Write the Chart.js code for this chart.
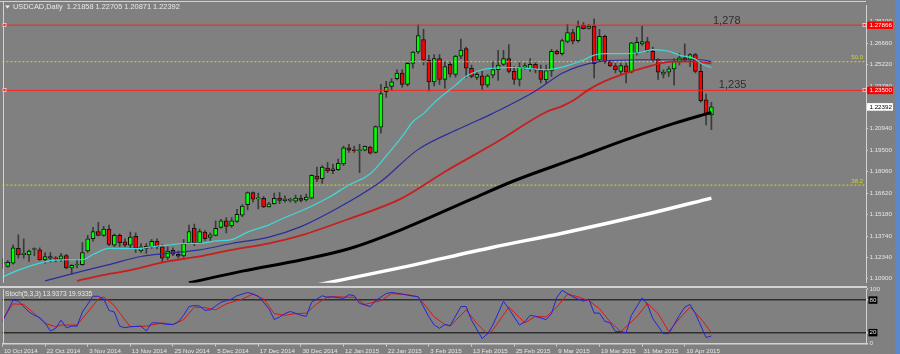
<!DOCTYPE html>
<html>
<head>
<meta charset="utf-8">
<script src="https://cdn.jsdelivr.net/npm/chart.js@4.4.1/dist/chart.umd.min.js"></script>
<style>
html, body { margin: 0; padding: 0; background: #808080; }
#wrap { position: relative; width: 900px; height: 354px; overflow: hidden; background: #808080; }
#main { position: absolute; left: 0; top: 0; }
#osc { position: absolute; left: 0; top: 284px; }
#edge { position: absolute; left: 895px; top: 0; width: 5px; height: 354px; background: #5b87cc; }
</style>
</head>
<body>
<div id="wrap">
  <canvas id="main" width="895" height="288"></canvas>
  <canvas id="osc" width="895" height="70"></canvas>
  <div id="edge"></div>
</div>
<script>
// === DATA: daily USDCAD candles, 10 Oct 2014 -> 17 Apr 2015 ===
const opens = [
  1.1192,1.1171,1.1194,1.1292,1.1251,1.1249,1.1285,1.1282,1.1216,1.1238,
  1.1225,1.1220,1.1244,1.1162,1.1181,1.1184,1.1275,1.1357,1.1405,1.1379,
  1.1422,1.1314,1.1379,1.1336,1.1314,1.1373,1.1275,1.1308,1.1303,1.1340,
  1.1303,1.1231,1.1279,1.1253,1.1242,1.1329,1.1429,1.1329,1.1401,1.1366,
  1.1379,1.1433,1.1477,1.1444,1.1473,1.1514,1.1585,1.1666,1.1624,1.1627,
  1.1570,1.1592,1.1629,1.1611,1.1614,1.1608,1.1629,1.1616,1.1629,1.1777,
  1.1759,1.1829,1.1812,1.1820,1.1857,1.1966,1.1949,1.1946,1.1950,1.1970,
  1.1934,1.2103,1.2342,1.2377,1.2429,1.2466,1.2390,1.2531,1.2607,1.2690,
  1.2553,1.2407,1.2563,1.2423,1.2525,1.2457,1.2579,1.2629,1.2498,1.2436,
  1.2447,1.2385,1.2451,1.2488,1.2524,1.2563,1.2477,1.2423,1.2505,1.2494,
  1.2524,1.2486,1.2421,1.2480,1.2612,1.2596,1.2677,1.2737,1.2683,1.2785,
  1.2765,1.2781,1.2553,1.2711,1.2542,1.2514,1.2477,1.2514,1.2472,1.2602,
  1.2661,1.2677,1.2612,1.2557,1.2459,1.2472,1.2494,1.2542,1.2568,1.2557,
  1.2589,1.2477,1.2286,1.21858
];
const highs = [
  1.1225,1.1210,1.1316,1.1383,1.1357,1.1283,1.1296,1.1296,1.1264,1.1264,
  1.1238,1.1259,1.1253,1.1184,1.1216,1.1331,1.1379,1.1433,1.1466,1.1440,
  1.1449,1.1390,1.1390,1.1357,1.1401,1.1396,1.1325,1.1325,1.1353,1.1357,
  1.1318,1.1303,1.1296,1.1275,1.1353,1.1449,1.1455,1.1422,1.1412,1.1396,
  1.1477,1.1487,1.1499,1.1499,1.1553,1.1585,1.1670,1.1670,1.1662,1.1640,
  1.1601,1.1662,1.1666,1.1644,1.1629,1.1649,1.1649,1.1655,1.1785,1.1836,
  1.1846,1.1868,1.1857,1.1890,1.1977,1.1988,1.1977,1.1988,1.1977,1.1977,
  1.2112,1.2390,1.2411,1.2429,1.2488,1.2488,1.2542,1.2612,1.2788,1.2759,
  1.2585,1.2589,1.2589,1.2542,1.2542,1.2585,1.2694,1.2640,1.2520,1.2477,
  1.2477,1.2455,1.2542,1.2618,1.2618,1.2657,1.2509,1.2542,1.2531,1.2563,
  1.2542,1.2520,1.2520,1.2625,1.2622,1.2694,1.2792,1.2759,1.2814,1.2803,
  1.2792,1.2829,1.2759,1.2720,1.2553,1.2531,1.2531,1.2531,1.2672,1.2705,
  1.2781,1.2705,1.2640,1.2563,1.2488,1.2509,1.2563,1.2596,1.2661,1.2596,
  1.2596,1.2542,1.2325,1.22705
];
const lows = [
  1.1160,1.1166,1.1186,1.1227,1.1227,1.1205,1.1244,1.1212,1.1194,1.1201,
  1.1201,1.1205,1.1155,1.1122,1.1162,1.1179,1.1266,1.1340,1.1375,1.1373,
  1.1310,1.1303,1.1303,1.1303,1.1292,1.1266,1.1266,1.1259,1.1292,1.1288,
  1.1201,1.1216,1.1244,1.1227,1.1231,1.1325,1.1310,1.1325,1.1346,1.1346,
  1.1375,1.1427,1.1396,1.1433,1.1466,1.1505,1.1549,1.1601,1.1557,1.1564,
  1.1568,1.1588,1.1592,1.1601,1.1601,1.1596,1.1603,1.1609,1.1623,1.1738,
  1.1727,1.1799,1.1792,1.1814,1.1846,1.1934,1.1934,1.1799,1.1944,1.1923,
  1.1929,1.2064,1.2303,1.2351,1.2420,1.2372,1.2379,1.2498,1.2596,1.2520,
  1.2346,1.2379,1.2390,1.2364,1.2438,1.2438,1.2563,1.2433,1.2433,1.2424,
  1.2357,1.2372,1.2433,1.2416,1.2516,1.2466,1.2390,1.2379,1.2492,1.2477,
  1.2466,1.2400,1.2400,1.2444,1.2589,1.2585,1.2668,1.2661,1.2672,1.2759,
  1.2759,1.2433,1.2542,1.2531,1.2509,1.2466,1.2455,1.2400,1.2466,1.2585,
  1.2651,1.2607,1.2542,1.2423,1.2433,1.2444,1.2385,1.2520,1.2542,1.2509,
  1.2466,1.2270,1.2118,1.20871
];
const closes = [
  1.1199,1.1199,1.1296,1.1249,1.1261,1.1275,1.1288,1.1216,1.1238,1.1227,
  1.1222,1.1242,1.1162,1.1179,1.1184,1.1264,1.1357,1.1405,1.1379,1.1422,
  1.1318,1.1379,1.1331,1.1314,1.1368,1.1292,1.1303,1.1292,1.1340,1.1303,
  1.1227,1.1275,1.1253,1.1240,1.1325,1.1405,1.1329,1.1405,1.1357,1.1383,
  1.1427,1.1477,1.1440,1.1477,1.1520,1.1575,1.1666,1.1622,1.1627,1.1569,
  1.1590,1.1627,1.1614,1.1622,1.1617,1.1629,1.1613,1.1636,1.1781,1.1755,
  1.1836,1.1810,1.1825,1.1862,1.1966,1.1949,1.1946,1.1949,1.1975,1.1929,
  1.2107,1.2329,1.2372,1.2407,1.2466,1.2390,1.2531,1.2607,1.2716,1.2553,
  1.2407,1.2563,1.2423,1.2509,1.2459,1.2579,1.2620,1.2498,1.2444,1.2457,
  1.2385,1.2447,1.2490,1.2520,1.2563,1.2477,1.2423,1.2506,1.2516,1.2525,
  1.2486,1.2423,1.2483,1.2612,1.2596,1.2683,1.2737,1.2679,1.2777,1.2763,
  1.2781,1.2529,1.2711,1.2542,1.2516,1.2488,1.2516,1.2472,1.2668,1.2672,
  1.2677,1.2618,1.2553,1.2472,1.2472,1.2494,1.2542,1.2568,1.2553,1.2589,
  1.2477,1.2281,1.2186,1.22392
];

// date labels every 8 bars
const dateIdx = [0, 8, 16, 24, 32, 40, 48, 56, 64, 72, 80, 88, 96, 104, 112, 120, 128];
const dateLabels = ['10 Oct 2014', '22 Oct 2014', '3 Nov 2014', '13 Nov 2014', '25 Nov 2014',
  '5 Dec 2014', '17 Dec 2014', '30 Dec 2014', '12 Jan 2015', '22 Jan 2015', '3 Feb 2015',
  '13 Feb 2015', '25 Feb 2015', '9 Mar 2015', '19 Mar 2015', '31 Mar 2015', '10 Apr 2015'];

// price axis labels (as printed by the terminal)
const priceTicks = [1.281, 1.2666, 1.2522, 1.2378, 1.2234, 1.2094, 1.195, 1.1806, 1.1662, 1.1518, 1.1374, 1.1234, 1.109];

// moving averages (bar index / price)
const maCyanIdx = [0, 3, 7, 9, 12, 15, 17, 20, 25, 28, 31, 34, 37, 40, 43, 46, 50, 53, 56, 61, 65, 69, 72, 75, 77, 79, 81, 85, 87, 90, 92, 96, 100, 102, 106, 109, 111, 113, 117, 120, 122, 125, 127, 130, 131, 133];
const maCyanVal = [1.1101, 1.1147, 1.1194, 1.1210, 1.1216, 1.1216, 1.1251, 1.1292, 1.1290, 1.1303, 1.1314, 1.1325, 1.1326, 1.1342, 1.1351, 1.1401, 1.1450, 1.1499, 1.1542, 1.1629, 1.1716, 1.1792, 1.1911, 1.2042, 1.2140, 1.2194, 1.2268, 1.2385, 1.2444, 1.2488, 1.2498, 1.2503, 1.2492, 1.2488, 1.2516, 1.2553, 1.2586, 1.2596, 1.2596, 1.2607, 1.2623, 1.2612, 1.2586, 1.2559, 1.2531, 1.2503];

const maNavyIdx = [8, 15, 20, 26, 31, 37, 43, 50, 56, 63, 71, 78, 86, 92, 100, 105, 108, 112, 120, 131, 133];
const maNavyVal = [1.1075, 1.1140, 1.1184, 1.1238, 1.1259, 1.1282, 1.1325, 1.1368, 1.1438, 1.1564, 1.1740, 1.1955, 1.2098, 1.2196, 1.2346, 1.2464, 1.2509, 1.2542, 1.2555, 1.2555, 1.2542];

const maRedIdx = [14, 18, 24, 31, 37, 43, 50, 56, 65, 75, 83, 93, 102, 105, 107, 110, 113, 120, 126, 129, 133];
const maRedVal = [1.1075, 1.1107, 1.1147, 1.1205, 1.1238, 1.1282, 1.1325, 1.1379, 1.1490, 1.1629, 1.1805, 1.2009, 1.2205, 1.2245, 1.2280, 1.2355, 1.2412, 1.2498, 1.2542, 1.2542, 1.2531];

const maBlackIdx = [35, 45, 56, 65, 75, 88, 96, 108, 117, 126, 133];
const maBlackVal = [1.1062, 1.1140, 1.1215, 1.1290, 1.1420, 1.1622, 1.1745, 1.1901, 1.2020, 1.2129, 1.2203];

const maWhiteIdx = [58, 75, 92, 105, 122, 133];
const maWhiteVal = [1.1040, 1.1165, 1.1300, 1.1394, 1.1531, 1.1629];

// horizontal objects
const redLevels = [1.27866, 1.235];
const fiboLevels = [1.2542, 1.1716];
const fiboNames = ['50.0', '38.2'];
const noteText = ['1,278', '1,235'];
const noteIdx = [133.3, 134.4];
const notePrice = [1.2792, 1.2364];

// stochastic (5,3,3)
const stochKIdx = [0, 2, 3, 5, 6, 7, 8, 9, 10, 11, 12, 13, 14, 15, 17, 18, 19, 20, 21, 22, 23, 24, 26, 27, 28, 29, 31, 32, 33, 34, 35, 36, 37, 38, 39, 41, 42, 43, 44, 46, 47, 48, 50, 51, 52, 53, 54, 56, 57, 58, 60, 61, 62, 64, 65, 66, 67, 69, 70, 72, 73, 75, 76, 78, 80, 81, 82, 83, 84, 86, 87, 88, 90, 91, 92, 94, 95, 97, 98, 99, 100, 102, 103, 104, 105, 106, 107, 109, 110, 111, 112, 113, 114, 115, 116, 117, 118, 120, 121, 122, 124, 125, 127, 128, 129, 130, 132, 133];
const stochKVal = [40, 80, 78, 58, 52, 48, 38, 23, 28, 43, 29, 32, 32, 58, 87, 87, 82, 61, 58, 32, 29, 31, 32, 23, 38, 38, 35, 35, 40, 52, 68, 70, 69, 61, 62, 76, 79, 82, 88, 94, 91, 87, 64, 44, 49, 55, 59, 52, 50, 76, 88, 85, 86, 83, 90, 88, 74, 68, 79, 92, 94, 91, 89, 86, 49, 34, 28, 35, 33, 68, 68, 43, 9, 18, 34, 78, 64, 34, 40, 52, 50, 44, 55, 85, 98, 92, 86, 78, 82, 56, 56, 41, 38, 22, 22, 20, 52, 84, 72, 46, 18, 18, 52, 67, 72, 55, 11, 13.9373];
const stochDIdx = [0, 2, 4, 6, 8, 10, 11, 14, 16, 18, 19, 21, 23, 24, 27, 30, 32, 34, 36, 38, 40, 42, 45, 47, 49, 51, 53, 55, 57, 59, 61, 63, 66, 68, 71, 73, 76, 78, 81, 83, 84, 87, 89, 91, 92, 95, 96, 98, 100, 102, 104, 106, 108, 110, 112, 114, 116, 119, 121, 123, 125, 127, 129, 131, 133];
const stochDVal = [44, 73, 72, 55, 37, 31, 34, 34, 58, 82, 86, 70, 43, 31, 32, 38, 35, 44, 67, 66, 62, 73, 82, 91, 82, 55, 52, 55, 56, 73, 86, 86, 85, 72, 79, 92, 90, 86, 49, 35, 32, 62, 37, 17, 25, 67, 58, 38, 50, 49, 67, 91, 86, 79, 64, 40, 22, 49, 74, 55, 22, 46, 67, 46, 19.9335];
const stochLevels = [20, 80];
const stochTicks = [0, 20, 80, 100];

// === LAYOUT CONSTANTS ===
const FONT = '"Liberation Sans", Arial, sans-serif';
const X_MIN = 0, X_MAX = 162;
const AXIS_W = 29;
const FRAME = '#d2d2d2';
const LABEL = '#e6e6e6';

function pts(idx, val) { return idx.map((x, i) => ({ x: x, y: val[i] })); }
function hline(v) { return [{ x: X_MIN, y: v }, { x: X_MAX, y: v }]; }

function maSet(idx, val, color, width, order) {
  return {
    type: 'line', data: pts(idx, val), borderColor: color, borderWidth: width,
    pointRadius: 0, cubicInterpolationMode: 'monotone', order: order
  };
}

// === MAIN PRICE CHART ===
const last = opens.length - 1;
const bodies = opens.map((o, i) => ({ x: i, y: [o, closes[i]] }));
const wicks = opens.map((o, i) => ({ x: i, y: [lows[i], highs[i]] }));
const bodyColors = opens.map((o, i) => closes[i] >= o ? '#00ff00' : '#ff0000');

const levelSets = [];
redLevels.forEach(v => levelSets.push({
  type: 'line', data: hline(v), borderColor: '#ff2020', borderWidth: 1, pointRadius: 0, order: 6
}));
fiboLevels.forEach(v => levelSets.push({
  type: 'line', data: hline(v), borderColor: '#d4d42c', borderWidth: 1, borderDash: [2, 2], pointRadius: 0, order: 6
}));

const mainDecor = {
  id: 'mainDecor',
  afterDraw(chart) {
    const c = chart.ctx, a = chart.chartArea;
    const xs = chart.scales.x, ys = chart.scales.y;
    c.save();
    // frame
    c.strokeStyle = FRAME;
    c.lineWidth = 1;
    c.beginPath();
    c.moveTo(3.5, 1); c.lineTo(3.5, a.bottom);
    c.moveTo(0, 1.5); c.lineTo(a.right, 1.5);
    c.stroke();
    c.lineWidth = 2;
    c.beginPath(); c.moveTo(0, 287); c.lineTo(a.right + 1, 287); c.stroke();

    // handles at the ends of the red lines
    redLevels.forEach(v => {
      const y = Math.round(ys.getPixelForValue(v));
      [3, a.right - 3].forEach(x => {
        c.fillStyle = '#ff2020';
        c.fillRect(x, y - 1.5, 3, 3);
        c.strokeStyle = '#ffd0d0';
        c.lineWidth = 0.8;
        c.strokeRect(x, y - 1.5, 3, 3);
      });
    });

    // fibo level names
    c.font = '6px ' + FONT;
    c.fillStyle = '#d4d42c';
    c.textAlign = 'right';
    c.textBaseline = 'bottom';
    fiboLevels.forEach((v, i) => c.fillText(fiboNames[i], a.right - 3, ys.getPixelForValue(v) - 1));

    // text notes
    c.font = '11px ' + FONT;
    c.fillStyle = '#2e2e2e';
    c.textAlign = 'left';
    c.textBaseline = 'alphabetic';
    noteText.forEach((t, i) => c.fillText(t, xs.getPixelForValue(noteIdx[i]), ys.getPixelForValue(notePrice[i])));

    // price boxes on the axis
    c.font = '6.2px ' + FONT;
    c.textBaseline = 'middle';
    redLevels.forEach(v => {
      const y = ys.getPixelForValue(v);
      c.fillStyle = '#ff0000';
      c.fillRect(a.right + 1, y - 3.8, 26, 7.6);
      c.fillStyle = '#ffffff';
      c.fillText(v.toFixed(5), a.right + 3.5, y + 0.3);
    });
    const yl = ys.getPixelForValue(closes[last]);
    c.fillStyle = '#ffffff';
    c.fillRect(a.right + 1, yl - 3.8, 26, 7.6);
    c.fillStyle = '#000000';
    c.fillText(closes[last].toFixed(5), a.right + 3.5, yl + 0.3);

    // title
    c.fillStyle = '#f0f0f0';
    c.beginPath(); c.moveTo(5, 5.5); c.lineTo(10, 5.5); c.lineTo(7.5, 8.5); c.closePath(); c.fill();
    c.font = '7.4px ' + FONT;
    c.textBaseline = 'middle';
    c.fillStyle = '#e8e8e8';
    const title = 'USDCAD,Daily  ' + [opens[last], highs[last], lows[last], closes[last]].map(v => v.toFixed(5)).join(' ');
    c.fillText(title, 13, 7.2);
    c.restore();
  }
};

new Chart(document.getElementById('main').getContext('2d'), {
  type: 'bar',
  data: {
    datasets: [
      maSet(maCyanIdx, maCyanVal, '#40d8d8', 1.2, 1),
      maSet(maNavyIdx, maNavyVal, '#2c2c9c', 1.2, 2),
      maSet(maRedIdx, maRedVal, '#c81e1e', 1.8, 3),
      maSet(maBlackIdx, maBlackVal, '#000000', 3, 4),
      maSet(maWhiteIdx, maWhiteVal, '#ffffff', 3.5, 5),
      ...levelSets,
      {
        type: 'bar', data: bodies, backgroundColor: bodyColors, borderColor: '#111111',
        borderWidth: 1, borderSkipped: false, grouped: false, categoryPercentage: 1,
        barPercentage: 1, maxBarThickness: 4, minBarLength: 1, order: 7
      },
      {
        type: 'bar', data: wicks, backgroundColor: '#3a3a3a', grouped: false,
        categoryPercentage: 1, barPercentage: 1, maxBarThickness: 1, order: 8
      }
    ]
  },
  options: {
    responsive: false,
    animation: false,
    devicePixelRatio: 1,
    events: [],
    layout: { padding: { left: 2.4, top: 2, right: 0, bottom: 1 } },
    plugins: { legend: { display: false }, tooltip: { enabled: false } },
    scales: {
      x: { type: 'linear', min: X_MIN, max: X_MAX, offset: false, display: false },
      y: {
        position: 'right', min: 1.1062, max: 1.2920,
        afterBuildTicks: s => { s.ticks = priceTicks.map(v => ({ value: v })); },
        afterFit: s => { s.width = AXIS_W; },
        grid: { drawOnChartArea: false, drawTicks: true, tickLength: 2, color: FRAME },
        border: { display: true, color: FRAME, width: 1 },
        ticks: {
          autoSkip: false, padding: 1.5, color: LABEL,
          font: { family: FONT, size: 6.2 },
          callback: v => v.toFixed(5)
        }
      }
    }
  },
  plugins: [mainDecor]
});

// === STOCHASTIC PANEL ===
const oscDecor = {
  id: 'oscDecor',
  afterDraw(chart) {
    const c = chart.ctx, a = chart.chartArea;
    c.save();
    c.strokeStyle = FRAME;
    c.lineWidth = 1;
    c.beginPath();
    c.moveTo(3.5, a.top); c.lineTo(3.5, a.bottom);
    c.stroke();
    c.font = '6.6px ' + FONT;
    c.fillStyle = '#e8e8e8';
    c.textBaseline = 'middle';
    c.textAlign = 'left';
    const t = 'Stoch(5,3,3) ' + stochKVal[stochKVal.length - 1].toFixed(4) + ' ' + stochDVal[stochDVal.length - 1].toFixed(4);
    c.fillText(t, 5, a.top + 4.5);
    c.restore();
  }
};

new Chart(document.getElementById('osc').getContext('2d'), {
  type: 'line',
  data: {
    datasets: [
      { data: pts(stochKIdx, stochKVal), borderColor: '#2424d8', borderWidth: 1, pointRadius: 0, tension: 0 },
      { data: pts(stochDIdx, stochDVal), borderColor: '#e01414', borderWidth: 1, pointRadius: 0, tension: 0 }
    ]
  },
  options: {
    responsive: false,
    animation: false,
    devicePixelRatio: 1,
    events: [],
    layout: { padding: { left: 2.4, top: 4.5, right: 0, bottom: 0 } },
    plugins: { legend: { display: false }, tooltip: { enabled: false } },
    scales: {
      x: {
        type: 'linear', min: X_MIN, max: X_MAX, offset: false, position: 'bottom',
        afterBuildTicks: s => { s.ticks = dateIdx.map(v => ({ value: v })); },
        afterFit: s => { s.height = 10.5; },
        grid: { drawOnChartArea: false, drawTicks: true, tickLength: 3, color: FRAME },
        border: { display: true, color: FRAME, width: 1.5 },
        ticks: {
          autoSkip: false, maxRotation: 0, align: 'start', labelOffset: 1.5, padding: 1,
          color: LABEL, font: { family: FONT, size: 6.2 },
          callback: v => dateLabels[dateIdx.indexOf(v)]
        }
      },
      y: {
        position: 'right', min: 0, max: 100,
        afterBuildTicks: s => { s.ticks = stochTicks.map(v => ({ value: v })); },
        afterFit: s => { s.width = AXIS_W; },
        grid: {
          drawOnChartArea: true, drawTicks: true, tickLength: 2, lineWidth: 1.5,
          color: ctx => (ctx.tick && stochLevels.includes(ctx.tick.value)) ? '#2e2e2e' : 'rgba(0,0,0,0)',
          tickColor: FRAME
        },
        border: { display: true, color: FRAME, width: 1 },
        ticks: {
          autoSkip: false, padding: 1.5, color: LABEL,
          font: { family: FONT, size: 6.2 },
          callback: v => String(v),
          showLabelBackdrop: ctx => stochLevels.includes(ctx.tick.value),
          backdropColor: '#000000',
          backdropPadding: { top: 0, bottom: 0, left: 1, right: 1 }
        }
      }
    }
  },
  plugins: [oscDecor]
});
</script>
</body>
</html>
